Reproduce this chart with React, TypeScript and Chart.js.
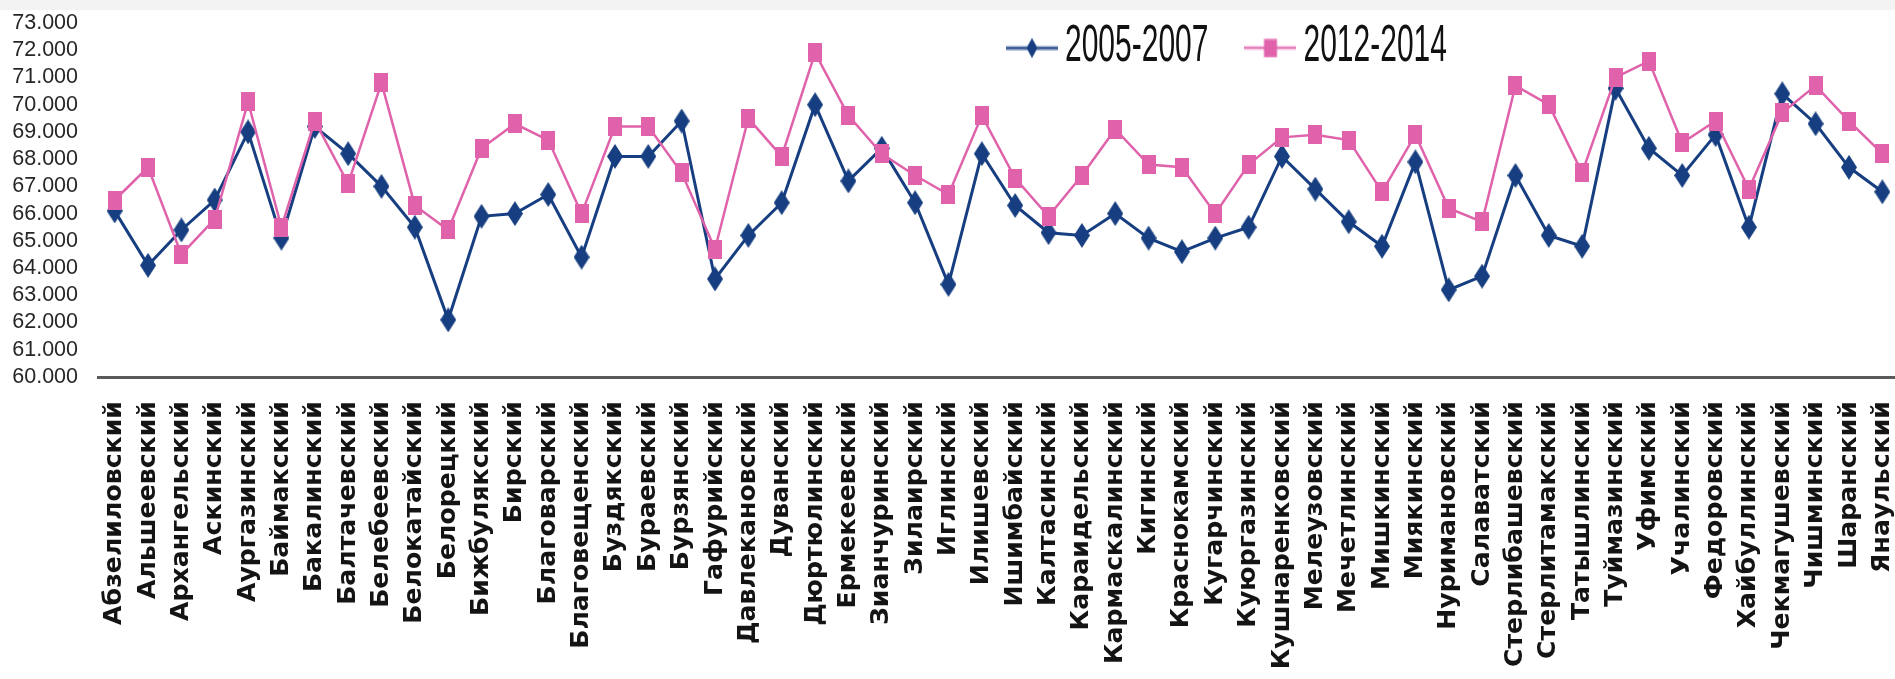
import { useEffect, useRef } from "react";
import { Chart, registerables } from "chart.js";

Chart.register(...registerables);

const categories: string[] = [
  "Абзелиловский", "Альшеевский", "Архангельский", "Аскинский", "Аургазинский",
  "Баймакский", "Бакалинский", "Балтачевский", "Белебеевский", "Белокатайский",
  "Белорецкий", "Бижбулякский", "Бирский", "Благоварский", "Благовещенский",
  "Буздякский", "Бураевский", "Бурзянский", "Гафурийский", "Давлекановский",
  "Дуванский", "Дюртюлинский", "Ермекеевский", "Зианчуринский", "Зилаирский",
  "Иглинский", "Илишевский", "Ишимбайский", "Калтасинский", "Караидельский",
  "Кармаскалинский", "Кигинский", "Краснокамский", "Кугарчинский", "Куюргазинский",
  "Кушнаренковский", "Мелеузовский", "Мечетлинский", "Мишкинский", "Миякинский",
  "Нуримановский", "Салаватский", "Стерлибашевский", "Стерлитамакский", "Татышлинский",
  "Туймазинский", "Уфимский", "Учалинский", "Федоровский", "Хайбуллинский",
  "Чекмагушевский", "Чишминский", "Шаранский", "Янаульский",
];

const series2005_2007: number[] = [
  66.1, 64.1, 65.4, 66.5, 69.0, 65.1, 69.2, 68.2, 67.0, 65.5,
  62.1, 65.9, 66.0, 66.7, 64.4, 68.1, 68.1, 69.4, 63.6, 65.2,
  66.4, 70.0, 67.2, 68.4, 66.4, 63.4, 68.2, 66.3, 65.3, 65.2,
  66.0, 65.1, 64.6, 65.1, 65.5, 68.1, 66.9, 65.7, 64.8, 67.9,
  63.2, 63.7, 67.4, 65.2, 64.8, 70.6, 68.4, 67.4, 68.9, 65.5,
  70.4, 69.3, 67.7, 66.8,
];

const series2012_2014: number[] = [
  66.5, 67.7, 64.5, 65.8, 70.1, 65.5, 69.4, 67.1, 70.8, 66.3,
  65.4, 68.4, 69.3, 68.7, 66.0, 69.2, 69.2, 67.5, 64.7, 69.5,
  68.1, 71.9, 69.6, 68.2, 67.4, 66.7, 69.6, 67.3, 65.9, 67.4,
  69.1, 67.8, 67.7, 66.0, 67.8, 68.8, 68.9, 68.7, 66.8, 68.9,
  66.2, 65.7, 70.7, 70.0, 67.5, 71.0, 71.6, 68.6, 69.4, 66.9,
  69.7, 70.7, 69.4, 68.2,
];

const seriesLabels: string[] = ["2005-2007", "2012-2014"];

const Y_MIN = 60;
const Y_MAX = 73;
const Y_STEP = 1;

const BLUE = "#163e80";
const PINK = "#df62ab";
const SANS = "'Liberation Sans', Arial, sans-serif";

function makeCanvas(w: number, h: number) {
  const c = document.createElement("canvas");
  c.width = w;
  c.height = h;
  return c;
}

function drawDiamond(ctx: CanvasRenderingContext2D, cx: number, cy: number, w: number, h: number, color: string) {
  ctx.fillStyle = color;
  ctx.beginPath();
  ctx.moveTo(cx, cy - h / 2);
  ctx.lineTo(cx + w / 2, cy);
  ctx.lineTo(cx, cy + h / 2);
  ctx.lineTo(cx - w / 2, cy);
  ctx.closePath();
  ctx.fill();
}

function makeDiamond(w: number, h: number, color: string) {
  const c = makeCanvas(w, h);
  const ctx = c.getContext("2d")!;
  drawDiamond(ctx, w / 2, h / 2, w, h, color);
  return c;
}

function makeSquare(w: number, h: number, color: string) {
  const c = makeCanvas(w, h);
  const ctx = c.getContext("2d")!;
  ctx.fillStyle = color;
  ctx.fillRect(0, 0, w, h);
  return c;
}

// Legend text is drawn vertically stretched (tall, narrow type as in the source),
// so the icons are pre-compressed by the same factor.
const LEGEND_STRETCH = 1.7;
const LEGEND_FONT = 30;
const LEGEND_PAD = 44;
const LEGEND_BOX = 36;
const LEGEND_X = 1014;
const LEGEND_CY = 47;

function makeLegendIcon(kind: "diamond" | "square", color: string, lineWidth: number) {
  const k = LEGEND_STRETCH;
  const w = 52;
  const h = 24;
  const lineY = h / 2 + 0.6;
  const c = makeCanvas(w, h);
  const ctx = c.getContext("2d")!;
  ctx.strokeStyle = color;
  ctx.lineWidth = lineWidth / k;
  ctx.beginPath();
  ctx.moveTo(0, lineY);
  ctx.lineTo(w, lineY);
  ctx.stroke();
  if (kind === "diamond") {
    drawDiamond(ctx, w / 2, lineY, 11, 20 / k, color);
  } else {
    ctx.fillStyle = color;
    ctx.fillRect(w / 2 - 6.5, lineY - 9 / k, 13, 18 / k);
  }
  return c;
}

// Lay the (horizontal) legend over the plot area instead of reserving a band for it.
const legendPlacer = {
  id: "legendPlacer",
  beforeLayout(chart: any) {
    const lg = chart.legend;
    if (!lg) return;
    lg.position = "chartArea";
    if (!lg.__stretched) {
      lg.__stretched = true;
      const orig = lg.draw.bind(lg);
      lg.draw = (area: any) => {
        const ctx = lg.ctx as CanvasRenderingContext2D;
        ctx.save();
        ctx.translate(0, LEGEND_CY);
        ctx.scale(1, LEGEND_STRETCH);
        ctx.translate(0, -LEGEND_CY);
        orig(area);
        ctx.restore();
      };
    }
  },
  afterLayout(chart: any) {
    const lg = chart.legend;
    if (!lg) return;
    lg.left = LEGEND_X - LEGEND_PAD;
    lg.right = chart.width;
    lg.width = lg.right - lg.left;
    lg.top = LEGEND_CY - LEGEND_FONT / 2 - LEGEND_PAD;
    lg.bottom = lg.top + 2 * LEGEND_PAD + LEGEND_FONT + 20;
    lg.height = lg.bottom - lg.top;
  },
};

export default function App() {
  const ref = useRef<HTMLCanvasElement>(null);

  useEffect(() => {
    if (!ref.current) return;
    const diamond = makeDiamond(16, 25, BLUE);
    const square = makeSquare(14, 19, PINK);
    const legendIcons = [
      makeLegendIcon("diamond", BLUE, 3),
      makeLegendIcon("square", PINK, 2.5),
    ];

    const chart = new Chart(ref.current, {
      type: "line",
      data: {
        labels: categories,
        datasets: [
          {
            label: seriesLabels[0],
            data: series2005_2007,
            borderColor: BLUE,
            backgroundColor: BLUE,
            borderWidth: 3,
            pointStyle: diamond as any,
            pointRadius: 8,
            tension: 0,
            order: 2,
          },
          {
            label: seriesLabels[1],
            data: series2012_2014,
            borderColor: PINK,
            backgroundColor: PINK,
            borderWidth: 2.5,
            pointStyle: square as any,
            pointRadius: 8,
            tension: 0,
            order: 1,
          },
        ],
      },
      options: {
        animation: false,
        responsive: true,
        maintainAspectRatio: false,
        layout: { autoPadding: false, padding: { left: 0, top: 23, right: 0, bottom: 0 } },
        plugins: {
          tooltip: { enabled: false },
          legend: {
            display: true,
            position: "top",
            align: "start",
            labels: {
              usePointStyle: true,
              pointStyleWidth: LEGEND_BOX,
              padding: LEGEND_PAD,
              color: "#111111",
              font: { family: SANS, size: LEGEND_FONT },
              generateLabels: (ch: any) =>
                ch.data.datasets.map((ds: any, i: number) => ({
                  text: ds.label,
                  pointStyle: legendIcons[i],
                  fillStyle: "rgba(0,0,0,0)",
                  strokeStyle: "rgba(0,0,0,0)",
                  lineWidth: 0,
                  hidden: false,
                  datasetIndex: i,
                  fontColor: "#111111",
                })),
            },
          },
        },
        scales: {
          x: {
            type: "category",
            offset: true,
            grid: { display: false, drawTicks: false },
            border: { display: true, color: "#5a5a5a", width: 3 },
            ticks: {
              autoSkip: false,
              minRotation: 90,
              maxRotation: 90,
              padding: 24,
              color: "#141414",
              font: { family: "'DejaVu Sans', Verdana, sans-serif", size: 25.2, weight: "bold" },
            },
            afterFit: (scale: any) => {
              scale.height = 302;
              scale.paddingLeft = 0;
              scale.paddingRight = 0;
            },
          },
          y: {
            min: Y_MIN,
            max: Y_MAX,
            grid: { display: false, drawTicks: false },
            border: { display: false },
            ticks: {
              stepSize: Y_STEP,
              maxTicksLimit: 30,
              autoSkip: false,
              padding: 20,
              color: "#262626",
              font: { family: SANS, size: 21.5, lineHeight: 1 },
              callback: (v: any) => Number(v).toFixed(3),
            },
            afterFit: (scale: any) => {
              scale.width = 98;
              scale.paddingTop = 0;
              scale.paddingBottom = 0;
            },
          },
        },
      },
      plugins: [legendPlacer],
    });

    return () => chart.destroy();
  }, []);

  return (
    <div
      style={{
        position: "absolute",
        left: 0,
        top: 0,
        width: 1895,
        height: 679,
        overflow: "hidden",
        background: "#ffffff",
      }}
    >
      <div
        style={{
          position: "absolute",
          left: 0,
          top: 0,
          width: "100%",
          height: 10,
          background: "#f3f3f3",
        }}
      />
      <div style={{ position: "absolute", left: 0, top: 0, width: 1899, height: 679 }}>
        <canvas ref={ref} />
      </div>
    </div>
  );
}
